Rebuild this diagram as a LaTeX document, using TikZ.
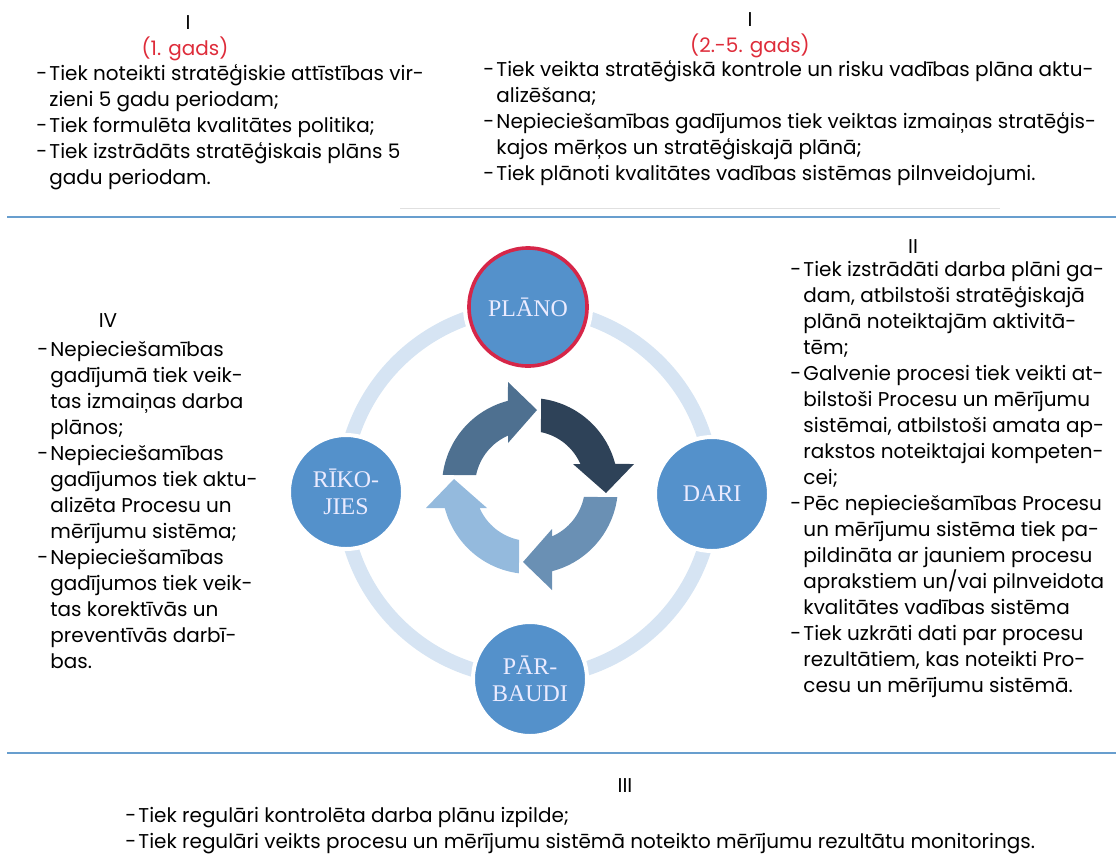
\documentclass[tikz,border=0pt]{standalone}
\usepackage{fontspec}
\setmainfont{Poppins}
\newfontfamily\discfont{Liberation Serif}
\usepackage{xcolor}
\usetikzlibrary{positioning, calc}

\definecolor{ringblue}{RGB}{214,228,243}
\definecolor{discblue}{RGB}{84,145,203}
\definecolor{planred}{RGB}{214,38,72}
\definecolor{ruleblue}{RGB}{104,158,206}
\definecolor{yearred}{RGB}{222,44,58}
\definecolor{arrowA}{RGB}{78,112,144}
\definecolor{arrowB}{RGB}{46,66,88}
\definecolor{arrowC}{RGB}{106,144,180}
\definecolor{arrowD}{RGB}{148,186,221}

\newcommand{\dsh}{\makebox[0.66em][l]{-}}
\newcommand{\ind}{\hspace*{0.66em}}
% one quarter of the inner cycle, turned by #1 about (spin)
\newcommand{\turnarrow}[2]{%
  \begin{scope}[shift={(spin)}, x=0.025cm, y=0.025cm, rotate=#1]
    \fill[#2] (172.8:88) arc[start angle=172.8, end angle=104.5, radius=88]
      -- (-22,104) -- (7,76) -- (-22,43) -- (-22,50.4)
      arc[start angle=113.6, end angle=168.5, radius=55] -- cycle;
  \end{scope}}

\begin{document}
\begin{tikzpicture}[
    x=0.025cm, y=-0.025cm,
    txt/.style={anchor=north west, inner sep=0pt, align=left, font=\fontsize{14.2}{18.5}\selectfont},
    head/.style={anchor=base, inner sep=0pt, font=\fontsize{14.2}{18.5}\selectfont},
    yearlbl/.style={head, text=yearred},
    disc/.style={circle, fill=discblue, draw=white, line width=0.1cm, minimum size=2.85cm, inner sep=0pt, align=center, text=white!92!blue, font=\discfont\fontsize{17}{19}\selectfont},
    ruler/.style={draw=ruleblue, line width=0.05cm},
]
\useasboundingbox (0,0) rectangle (1116,855);

\node[head] (romIa) at (188,29) {I};
\node[yearlbl] (yearA) at (185,55) {(1. gads)};
\node[txt] (firstyear) at (36,64) {\dsh Tiek noteikti stratēģiskie attīstības vir-\\
\ind zieni 5 gadu periodam;\\
\dsh Tiek formulēta kvalitātes politika;\\
\dsh Tiek izstrādāts stratēģiskais plāns 5\\
\ind gadu periodam.};

\node[head] (romIb) at (750,26) {I};
\node[yearlbl] (yearB) at (750,52) {(2.-5. gads)};
\node[txt] (lateryears) at (483,60) {\dsh Tiek veikta stratēģiskā kontrole un risku vadības plāna aktu-\\
\ind alizēšana;\\
\dsh Nepieciešamības gadījumos tiek veiktas izmaiņas stratēģis-\\
\ind kajos mērķos un stratēģiskajā plānā;\\
\dsh Tiek plānoti kvalitātes vadības sistēmas pilnveidojumi.};

\coordinate (ruleAl) at (7,217);
\coordinate (ruleAr) at (1116,217);
\coordinate (faintl) at (400,208);
\coordinate (faintr) at (1000,208);
\draw[ruler] (ruleAl) -- (ruleAr);
\draw[black!12, line width=0.02cm] (faintl) -- (faintr);

\coordinate (hub) at (528,493);
\coordinate (spin) at (530,486);
\draw[ringblue, line width=0.36cm] (hub) circle[radius=185];

\turnarrow{0}{arrowA}
\turnarrow{-90}{arrowB}
\turnarrow{180}{arrowC}
\turnarrow{90}{arrowD}

\node[disc, draw=planred, line width=0.09cm, minimum size=2.95cm, preaction={draw=white, line width=0.3cm}] (plano) at (528,307) {PLĀNO};
\node[disc] (dari) at (712,494) {DARI};
\node[disc] (parbaudi) at (530,679) {PĀR-\\BAUDI};
\node[disc] (rikojies) at (346,492) {RĪKO-\\JIES};

\node[head] (romII) at (913,253) {II};
\node[txt] (doing) at (790,261) {\dsh Tiek izstrādāti darba plāni ga-\\
\ind dam, atbilstoši stratēģiskajā\\
\ind plānā noteiktajām aktivitā-\\
\ind tēm;\\
\dsh Galvenie procesi tiek veikti at-\\
\ind bilstoši Procesu un mērījumu\\
\ind sistēmai, atbilstoši amata ap-\\
\ind rakstos noteiktajai kompeten-\\
\ind cei;\\
\dsh Pēc nepieciešamības Procesu\\
\ind un mērījumu sistēma tiek pa-\\
\ind pildināta ar jauniem procesu\\
\ind aprakstiem un/vai pilnveidota\\
\ind kvalitātes vadības sistēma\\
\dsh Tiek uzkrāti dati par procesu\\
\ind rezultātiem, kas noteikti Pro-\\
\ind cesu un mērījumu sistēmā.};

\node[head] (romIV) at (108,327) {IV};
\node[txt] (acting) at (37,341) {\dsh Nepieciešamības\\
\ind gadījumā tiek veik-\\
\ind tas izmaiņas darba\\
\ind plānos;\\
\dsh Nepieciešamības\\
\ind gadījumos tiek aktu-\\
\ind alizēta Procesu un\\
\ind mērījumu sistēma;\\
\dsh Nepieciešamības\\
\ind gadījumos tiek veik-\\
\ind tas korektīvās un\\
\ind preventīvās darbī-\\
\ind bas.};

\coordinate (ruleBl) at (7,753);
\coordinate (ruleBr) at (1116,753);
\draw[ruler] (ruleBl) -- (ruleBr);

\node[head] (romIII) at (625,792) {III};
\node[txt] (checking) at (125,807) {\dsh Tiek regulāri kontrolēta darba plānu izpilde;\\
\dsh Tiek regulāri veikts procesu un mērījumu sistēmā noteikto mērījumu rezultātu monitorings.};
\end{tikzpicture}
\end{document}
